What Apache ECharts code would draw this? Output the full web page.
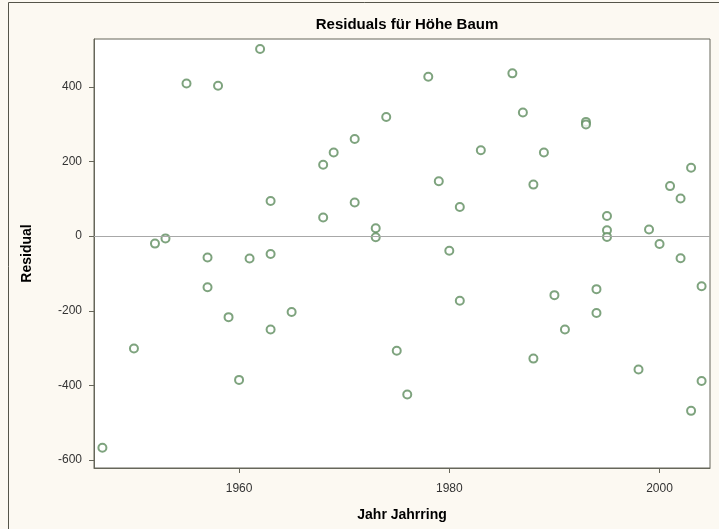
<!DOCTYPE html>
<html>
<head>
<meta charset="utf-8">
<script src="https://cdn.jsdelivr.net/npm/echarts@6/dist/echarts.min.js"></script>
<style>
  html, body { margin: 0; padding: 0; background: #FCF9F2; }
  #chart { width: 719px; height: 529px; }
</style>
</head>
<body>
<div id="chart"></div>
<script>
// Ring year of each measurement and its height residual
const years = [
  1947, 1950, 1952, 1953, 1955, 1957, 1957, 1958, 1959, 1960,
  1961, 1962, 1963, 1963, 1963, 1965, 1968, 1968, 1969, 1971,
  1971, 1973, 1973, 1974, 1975, 1976, 1978, 1979, 1980, 1981,
  1981, 1983, 1986, 1987, 1988, 1988, 1989, 1990, 1991, 1993,
  1993, 1994, 1994, 1995, 1995, 1995, 1998, 1999, 2000, 2001,
  2002, 2002, 2003, 2003, 2004, 2004
];
const residuals = [
  -567, -301, -20, -6, 409, -57, -137, 403, -217, -385,
  -60, 501, 94, -48, -250, -203, 191, 50, 224, 260,
  90, 21, -3, 319, -307, -424, 427, 147, -39, 78,
  -173, 230, 436, 331, 138, -328, 224, -158, -250, 306,
  299, -142, -206, 54, 16, -2, -357, 18, -21, 134,
  101, -59, 183, -468, -134, -388
];
const xTicks = [1960, 1980, 2000];
const yTicks = [-600, -400, -200, 0, 200, 400];

const points = years.map((y, i) => [y, residuals[i]]);

const chart = echarts.init(document.getElementById('chart'));
const axisColor = '#66665A';
const labelFont = { fontFamily: 'Liberation Sans', fontSize: 12, color: '#333333' };

chart.setOption({
  animation: false,
  backgroundColor: '#FCF9F2',
  title: {
    text: 'Residuals für Höhe Baum',
    left: 402,
    top: 12,
    textAlign: 'center',
    textStyle: { fontFamily: 'Liberation Sans', fontSize: 15, fontWeight: 'bold', color: '#000' }
  },
  graphic: [{
    type: 'rect',
    shape: { x: 8.5, y: 2.5, width: 900, height: 700 },
    style: { fill: 'none', stroke: '#55554A', lineWidth: 1 },
    silent: true,
    z: -1
  }],
  grid: {
    left: 94, right: 9, top: 39, bottom: 61,
    show: true,
    backgroundColor: '#FFFFFF',
    borderColor: axisColor,
    borderWidth: 1
  },
  xAxis: {
    type: 'value',
    min: 1946.2,
    max: 2004.8,
    name: 'Jahr Jahrring',
    nameLocation: 'middle',
    nameGap: 40,
    nameTextStyle: { fontFamily: 'Liberation Sans', fontSize: 14, fontWeight: 'bold', color: '#000' },
    axisLine: { show: true, onZero: false, lineStyle: { color: axisColor } },
    axisTick: { show: true, inside: false, length: 5, customValues: xTicks, lineStyle: { color: axisColor } },
    axisLabel: Object.assign({ customValues: xTicks, margin: 15, formatter: v => String(v) }, labelFont),
    splitLine: { show: false }
  },
  yAxis: {
    type: 'value',
    min: -621,
    max: 528,
    name: 'Residual',
    nameLocation: 'middle',
    nameGap: 60,
    nameTextStyle: { fontFamily: 'Liberation Sans', fontSize: 14, fontWeight: 'bold', color: '#000' },
    axisLine: { show: true, onZero: false, lineStyle: { color: axisColor } },
    axisTick: { show: true, inside: false, length: 5, customValues: yTicks, lineStyle: { color: axisColor } },
    axisLabel: Object.assign({ customValues: yTicks, margin: 12, formatter: v => String(v) }, labelFont),
    splitLine: { show: false }
  },
  series: [{
    type: 'scatter',
    data: points,
    symbol: 'emptyCircle',
    symbolSize: 8,
    itemStyle: { color: '#5E8C5E', borderColor: '#5E8C5E', borderWidth: 1.1 },
    markLine: {
      silent: true,
      symbol: 'none',
      label: { show: false },
      lineStyle: { color: '#A8A8A8', type: 'solid', width: 1 },
      data: [{ yAxis: 0 }]
    }
  }]
});
</script>
</body>
</html>
